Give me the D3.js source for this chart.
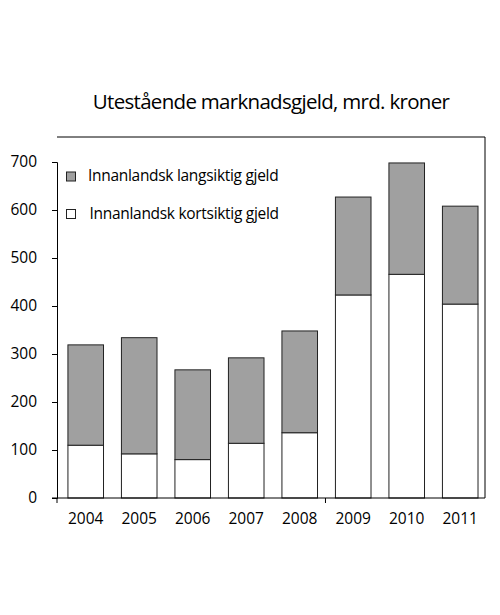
<!DOCTYPE html>
<html lang="no">
<head>
<meta charset="UTF-8">
<title>Utestående marknadsgjeld</title>
<script src="https://d3js.org/d3.v7.min.js"></script>
<style>
  body { margin: 0; background: #fff; }
  text { font-family: "Open Sans", "Noto Sans", sans-serif; fill: #000; }
</style>
</head>
<body>
<div id="chart"></div>
<script>
// data (mrd. kroner)
const years = ["2004", "2005", "2006", "2007", "2008", "2009", "2010", "2011"];
const kortsiktig = [110, 92, 80, 114, 136, 423, 466, 404];
const langsiktig = [209, 242, 187, 178, 212, 204, 232, 204];
const yTicks = [0, 100, 200, 300, 400, 500, 600, 700];
const seriesNames = ["Innanlandsk langsiktig gjeld", "Innanlandsk kortsiktig gjeld"];
const seriesColors = ["#a0a0a0", "#ffffff"];

const W = 500, H = 615;
const plotL = 57, plotR = 485, plotT = 137, plotB = 498;

const svg = d3.select("#chart").append("svg")
  .attr("width", W).attr("height", H);

const x = d3.scaleBand()
  .domain(years)
  .range([plotL, plotR])
  .paddingInner(0.335)
  .paddingOuter(0.1675)
  .align(0.61);

const y = d3.scaleLinear()
  .domain([0, 700])
  .range([plotB, plotB - 7 * 48]);

// title
svg.append("text")
  .attr("x", (plotL + plotR) / 2)
  .attr("y", 109)
  .attr("text-anchor", "middle")
  .style("font-size", "20.5px")
  .style("letter-spacing", "-0.7px")
  .text("Utestående marknadsgjeld, mrd. kroner");

// frame (top and right)
svg.append("path")
  .attr("d", `M${plotL},${plotT}H${plotR}V${plotB}`)
  .attr("fill", "none")
  .attr("stroke", "#000")
  .attr("stroke-width", 1);

// stacked data
const rows = years.map((yr, i) => ({ year: yr, kort: kortsiktig[i], lang: langsiktig[i] }));

const g = svg.append("g");
g.selectAll("rect.kort")
  .data(rows)
  .join("rect")
  .attr("class", "kort")
  .attr("x", d => x(d.year))
  .attr("width", x.bandwidth())
  .attr("y", d => y(d.kort))
  .attr("height", d => y(0) - y(d.kort))
  .attr("fill", seriesColors[1])
  .attr("stroke", "#222")
  .attr("stroke-width", 1);

g.selectAll("rect.lang")
  .data(rows)
  .join("rect")
  .attr("class", "lang")
  .attr("x", d => x(d.year))
  .attr("width", x.bandwidth())
  .attr("y", d => y(d.kort + d.lang))
  .attr("height", d => y(d.kort) - y(d.kort + d.lang))
  .attr("fill", seriesColors[0])
  .attr("stroke", "#222")
  .attr("stroke-width", 1);

// y axis
const yAxis = svg.append("g")
  .attr("transform", `translate(${plotL},0)`)
  .call(d3.axisLeft(y).tickValues(yTicks).tickSize(5).tickPadding(15));
yAxis.select(".domain").attr("stroke", "#000");
yAxis.selectAll("text").style("font-size", "15.5px").style("font-family", "'Open Sans', sans-serif").attr("fill", "#000");

// x axis: baseline with ticks at the left edge and between 2008 and 2009
const xAxis = svg.append("g")
  .attr("transform", `translate(0,${plotB})`);
xAxis.append("line")
  .attr("x1", plotL - 5).attr("x2", plotR)
  .attr("stroke", "#000");
[plotL, x("2009") - x.step() * x.paddingInner() * 0.5 - 1].forEach(tx => {
  xAxis.append("line")
    .attr("x1", tx).attr("x2", tx)
    .attr("y1", 0).attr("y2", 5)
    .attr("stroke", "#000");
});
xAxis.selectAll("text.lbl")
  .data(years)
  .join("text")
  .attr("class", "lbl")
  .attr("x", d => x(d) + x.bandwidth() / 2)
  .attr("y", 26)
  .attr("text-anchor", "middle")
  .style("font-size", "15.5px")
  .text(d => d);

// legend
const legend = svg.append("g");
const legendY = [172, 209.5];
seriesNames.forEach((name, i) => {
  legend.append("rect")
    .attr("x", 66.5).attr("y", legendY[i])
    .attr("width", 9).attr("height", 9)
    .attr("fill", seriesColors[i])
    .attr("stroke", "#222");
  legend.append("text")
    .attr("x", 88 + i * 1.5)
    .attr("y", legendY[i] + 9)
    .style("font-size", "15.5px")
    .style("letter-spacing", "-0.3px")
    .text(name);
});
</script>
</body>
</html>
